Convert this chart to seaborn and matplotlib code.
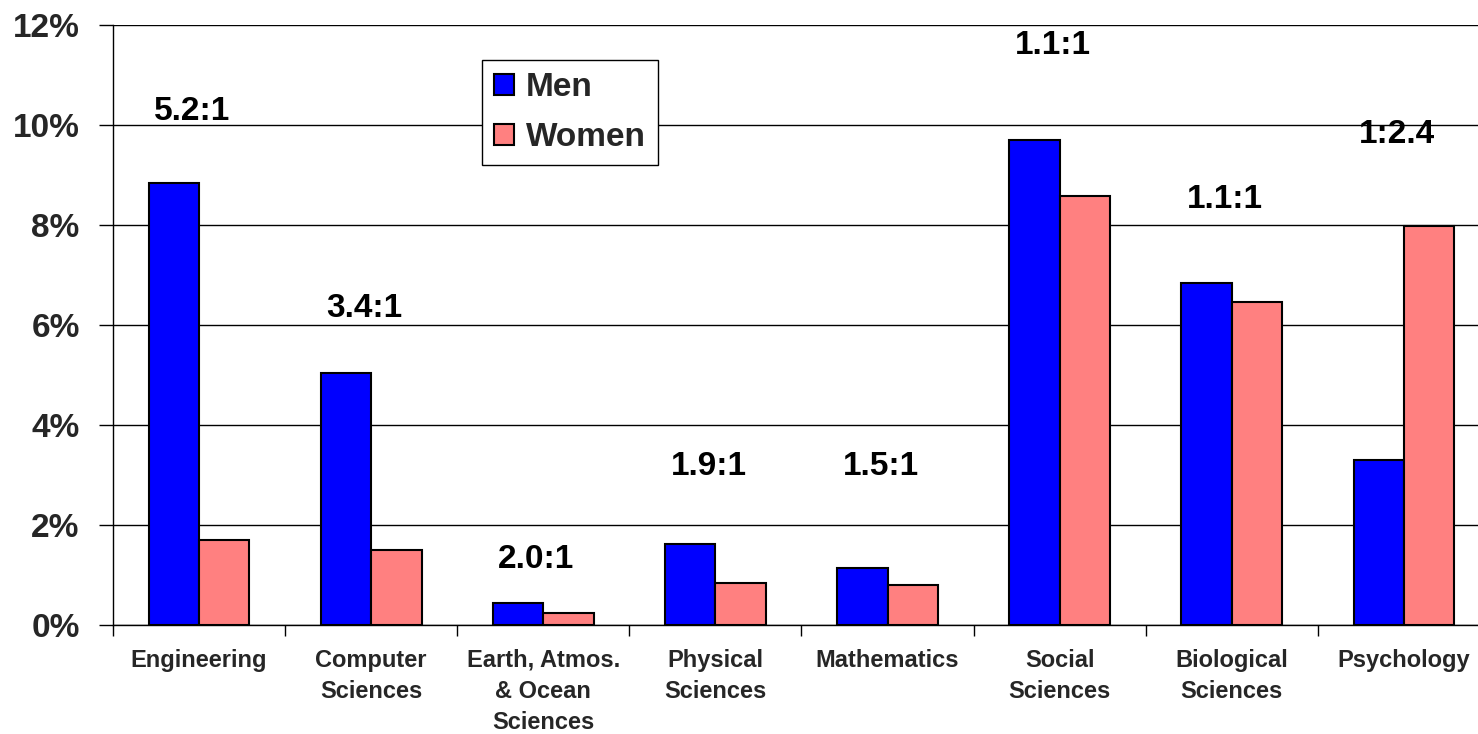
import matplotlib
matplotlib.use("Agg")
import matplotlib.pyplot as plt
import seaborn as sns
import pandas as pd
import numpy as np

categories = ["Engineering", "Computer\nSciences", "Earth, Atmos.\n& Ocean\nSciences",
              "Physical\nSciences", "Mathematics", "Social\nSciences",
              "Biological\nSciences", "Psychology"]
men = [8.84, 5.04, 0.45, 1.62, 1.14, 9.70, 6.84, 3.30]
women = [1.70, 1.50, 0.24, 0.84, 0.80, 8.58, 6.46, 7.98]
ratio_labels = ["5.2:1", "3.4:1", "2.0:1", "1.9:1", "1.5:1", "1.1:1", "1.1:1", "1:2.4"]
ratio_label_y = [10.28, 6.33, 1.31, 3.17, 3.17, 11.59, 8.51, 9.81]
y_ticks = [0, 2, 4, 6, 8, 10, 12]
y_tick_labels = ["0%", "2%", "4%", "6%", "8%", "10%", "12%"]

df = pd.DataFrame({
    "Field": categories * 2,
    "Sex": ["Men"] * len(categories) + ["Women"] * len(categories),
    "Percent": men + women,
})

sns.set_theme(style="white")
plt.rcParams["font.family"] = ["Liberation Sans", "DejaVu Sans"]
plt.rcParams["font.weight"] = "bold"

W, H = 1478, 734
fig = plt.figure(figsize=(W / 100, H / 100), dpi=100)
ax = fig.add_axes([113 / W, 109 / H, (1490 - 113) / W, 600 / H])

sns.barplot(data=df, x="Field", y="Percent", hue="Sex", order=categories,
            palette={"Men": "#0000FF", "Women": "#FF8080"}, saturation=1,
            width=0.585, edgecolor="black", linewidth=1.5, ax=ax, errorbar=None)

ax.set_xlim(-0.5, len(categories) - 0.5)
ax.set_ylim(0, 12)
ax.set_yticks(y_ticks)
ax.set_yticklabels(y_tick_labels, fontsize=24, fontweight="bold")
ax.tick_params(axis="y", direction="out", length=10, width=1, color="black", pad=14, left=True)

ax.set_xticks(range(len(categories)))
ax.set_xticklabels(categories, fontsize=17, fontweight="bold", linespacing=1.46)
ax.set_xticks(np.arange(-0.5, len(categories), 1.0), minor=True)
ax.tick_params(axis="x", which="major", length=0, pad=17)
ax.tick_params(axis="x", which="minor", direction="out", length=8, width=1, color="black", bottom=True)

ax.yaxis.grid(True, color="black", linewidth=1)
ax.set_axisbelow(True)
for s in ["top", "right"]:
    ax.spines[s].set_visible(False)
ax.spines["left"].set_color("black")
ax.spines["bottom"].set_color("black")
ax.spines["left"].set_linewidth(1)
ax.spines["bottom"].set_linewidth(1)
ax.set_xlabel("")
ax.set_ylabel("")

for i, (lab, yv) in enumerate(zip(ratio_labels, ratio_label_y)):
    ax.text(i - 0.04, yv, lab, ha="center", va="center", fontsize=24, fontweight="bold", color="black")

handles, labels = ax.get_legend_handles_labels()
leg = ax.legend(handles, labels, loc="upper left", bbox_to_anchor=(482 / W, 1 - 60 / H),
                bbox_transform=fig.transFigure, borderaxespad=0, frameon=True, fancybox=False,
                shadow=False, prop={"size": 24, "weight": "bold"}, handlelength=0.6,
                handleheight=0.6, handletextpad=0.35, labelspacing=0.58, borderpad=0.36)
leg.get_frame().set_edgecolor("black")
leg.get_frame().set_linewidth(1)
leg.get_frame().set_alpha(1)

fig.savefig("out.png", dpi=100, facecolor="white")
